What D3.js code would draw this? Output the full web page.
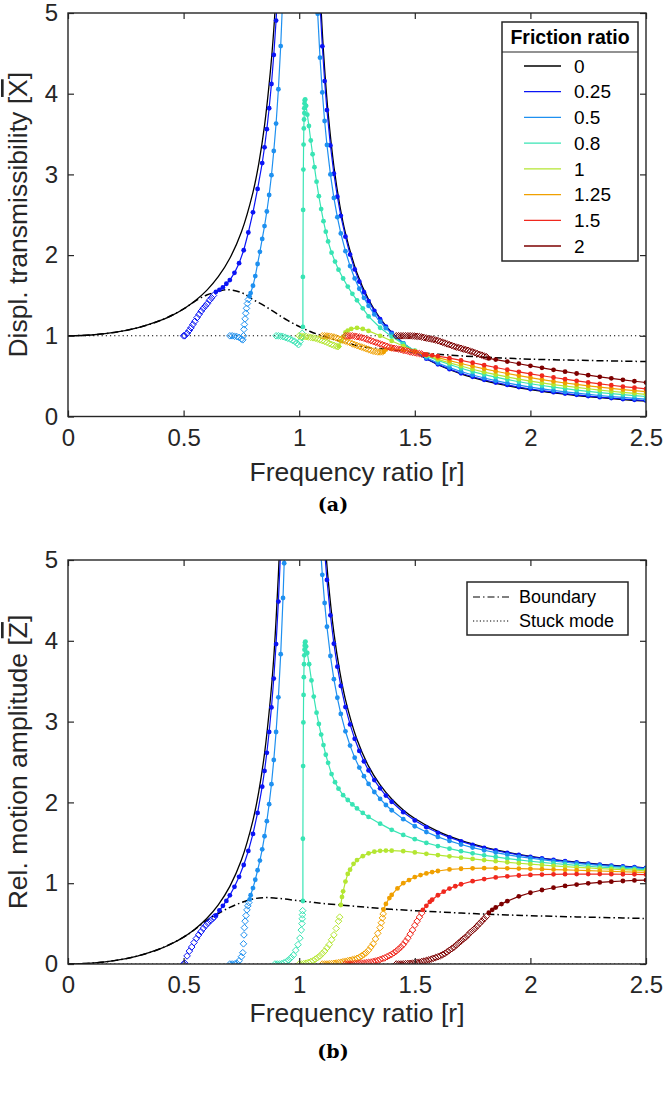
<!DOCTYPE html>
<html><head><meta charset="utf-8">
<script src="https://cdn.jsdelivr.net/npm/d3@7"></script>
<style>body{margin:0;background:#fff} svg{display:block} text{font-family:"Liberation Sans",Arial,Helvetica,sans-serif;fill:#262626}</style>
</head><body>
<svg id="c" width="665" height="1095"></svg>
<script>
// ---------------- DATA ----------------
const xTicks = [0, 0.5, 1, 1.5, 2, 2.5];
const yTicks = [0, 1, 2, 3, 4, 5];
const frictionRatios = [0, 0.25, 0.5, 0.8, 1, 1.25, 1.5, 2];
const legendLabels = ["0", "0.25", "0.5", "0.8", "1", "1.25", "1.5", "2"];
const legendTitle = "Friction ratio";
const legendB = ["Boundary", "Stuck mode"];

// Panel (a): displacement transmissibility
const aFreeLeft = [[0,1],[0.1,1.01],[0.2,1.042],[0.3,1.099],[0.4,1.19],[0.45,1.254],[0.5,1.333],[0.55,1.434],[0.6,1.5625],[0.65,1.732],[0.7,1.961],[0.75,2.286],[0.8,2.778],[0.825,3.131],[0.85,3.604],[0.875,4.267],[0.89,4.79],[0.9,5.263]];
const aFreeRight = [[1.09,5.32],[1.1,4.762],[1.11,4.308],[1.125,3.765],[1.15,3.101],[1.175,2.627],[1.2,2.273],[1.25,1.778],[1.3,1.449],[1.35,1.216],[1.4,1.042],[1.45,0.907],[1.5,0.8],[1.6,0.641],[1.7,0.529],[1.8,0.446],[1.9,0.383],[2.0,0.333],[2.1,0.293],[2.2,0.26],[2.3,0.233],[2.4,0.21],[2.5,0.19]];
const aBoundary = [[0,1],[0.1,1.01],[0.2,1.042],[0.3,1.099],[0.4,1.19],[0.5,1.333],[0.55,1.43],[0.6,1.505],[0.65,1.55],[0.69,1.572],[0.75,1.535],[0.8,1.45],[0.85,1.37],[0.9,1.28],[0.95,1.19],[1.0,1.115],[1.05,1.05],[1.1,1.0],[1.15,0.955],[1.2,0.915],[1.265,0.87],[1.3,0.855],[1.4,0.828],[1.5,0.795],[1.6,0.772],[1.7,0.752],[1.8,0.735],[1.9,0.722],[2.0,0.71],[2.2,0.697],[2.4,0.686],[2.5,0.681]];
const aStuck = [[0,1],[2.5,1]];

const aCont025L = [[0.64,1.545],[0.655,1.57],[0.67,1.6],[0.685,1.645],[0.7,1.69],[0.72,1.78],[0.74,1.9],[0.76,2.06],[0.78,2.28],[0.8,2.53],[0.82,2.82],[0.84,3.14],[0.85,3.336],[0.86,3.56],[0.87,3.82],[0.88,4.12],[0.89,4.48],[0.9,4.906],[0.91,5.43]];
const aCont025R = [[1.09,5.11],[1.1,4.587],[1.11,4.157],[1.12,3.797],[1.135,3.359],[1.15,3.008],[1.165,2.724],[1.18,2.487],[1.2,2.228],[1.22,2.007],[1.24,1.823],[1.26,1.671],[1.28,1.541],[1.3,1.43],[1.325,1.309],[1.35,1.206],[1.375,1.114],[1.4,1.037],[1.45,0.907],[1.5,0.802],[1.55,0.716],[1.6,0.6465],[1.65,0.587],[1.7,0.536],[1.75,0.492],[1.8,0.454],[1.85,0.421],[1.9,0.391],[1.95,0.365],[2.0,0.341],[2.05,0.32],[2.1,0.301],[2.15,0.284],[2.2,0.268],[2.25,0.253],[2.3,0.24],[2.35,0.228],[2.4,0.217],[2.45,0.207],[2.5,0.197]];
const aSlip025 = [[0.5,1.0],[0.505,1.0],[0.515,1.03],[0.524,1.065],[0.532,1.1],[0.54,1.14],[0.549,1.18],[0.558,1.225],[0.567,1.265],[0.576,1.305],[0.585,1.34],[0.594,1.37],[0.603,1.4],[0.612,1.44],[0.621,1.47],[0.629,1.5]];

const aCont05L = [[0.785,1.49],[0.79,1.53],[0.8,1.62],[0.81,1.74],[0.82,1.89],[0.83,2.04],[0.84,2.2],[0.85,2.36],[0.86,2.54],[0.87,2.745],[0.88,2.99],[0.89,3.29],[0.9,3.63],[0.91,4.055],[0.92,4.59],[0.93,5.29]];
const aCont05R = [[1.075,5.33],[1.08,4.99],[1.09,4.447],[1.1,4.016],[1.11,3.662],[1.12,3.365],[1.135,3.0],[1.15,2.709],[1.165,2.47],[1.18,2.268],[1.2,2.049],[1.22,1.864],[1.24,1.711],[1.26,1.583],[1.28,1.47],[1.3,1.372],[1.325,1.265],[1.35,1.174],[1.375,1.094],[1.4,1.024],[1.45,0.905],[1.5,0.809],[1.55,0.728],[1.6,0.663],[1.65,0.606],[1.7,0.557],[1.75,0.514],[1.8,0.477],[1.85,0.444],[1.9,0.414],[1.95,0.388],[2.0,0.364],[2.05,0.343],[2.1,0.323],[2.15,0.305],[2.2,0.289],[2.25,0.274],[2.3,0.26],[2.35,0.247],[2.4,0.236],[2.45,0.225],[2.5,0.215]];
const aSlip05 = [[0.7,1.0],[0.71,1.0],[0.72,0.995],[0.73,0.99],[0.74,0.98],[0.75,0.96],[0.756,0.95],[0.759,1.0],[0.761,1.08],[0.763,1.14],[0.766,1.21],[0.769,1.28],[0.772,1.34],[0.776,1.4],[0.78,1.45]];

const aCont08 = [[1.016,1.11],[1.016,1.73],[1.017,2.56],[1.018,3.06],[1.019,3.37],[1.02,3.57],[1.021,3.68],[1.022,3.76],[1.022,3.82],[1.023,3.88],[1.024,3.92],[1.026,3.93],[1.03,3.85],[1.035,3.74],[1.042,3.6],[1.05,3.42],[1.058,3.25],[1.066,3.09],[1.075,2.91],[1.085,2.73],[1.095,2.57],[1.105,2.42],[1.115,2.29],[1.125,2.17],[1.14,2.03],[1.155,1.92],[1.17,1.82],[1.19,1.71],[1.21,1.61],[1.23,1.52],[1.25,1.44],[1.275,1.34],[1.3,1.24],[1.35,1.1],[1.4,0.99],[1.45,0.9],[1.5,0.815],[1.55,0.75],[1.6,0.696],[1.65,0.645],[1.7,0.598],[1.75,0.556],[1.8,0.519],[1.85,0.487],[1.9,0.458],[1.95,0.431],[2.0,0.406],[2.05,0.384],[2.1,0.364],[2.15,0.345],[2.2,0.328],[2.25,0.312],[2.3,0.297],[2.35,0.283],[2.4,0.27],[2.45,0.259],[2.5,0.248]];
const aSlip08 = [[0.9,1.0],[0.91,1.0],[0.92,0.995],[0.93,0.99],[0.94,0.98],[0.95,0.97],[0.96,0.96],[0.97,0.945],[0.98,0.93],[0.99,0.91],[0.997,0.89],[1.004,0.93],[1.009,0.98],[1.013,1.03]];

const aCont1 = [[1.172,0.87],[1.18,0.934],[1.19,0.99],[1.2,1.042],[1.21,1.065],[1.225,1.085],[1.25,1.099],[1.275,1.085],[1.3,1.061],[1.35,1.0],[1.4,0.936],[1.45,0.873],[1.5,0.813],[1.55,0.758],[1.6,0.708],[1.65,0.665],[1.7,0.626],[1.75,0.586],[1.8,0.549],[1.85,0.518],[1.9,0.49],[1.95,0.463],[2.0,0.438],[2.05,0.416],[2.1,0.396],[2.15,0.378],[2.2,0.36],[2.25,0.344],[2.3,0.328],[2.35,0.313],[2.4,0.299],[2.45,0.287],[2.5,0.275]];
const aSlip1 = [[1.0,1.0],[1.01,0.995],[1.02,0.99],[1.03,0.99],[1.04,0.985],[1.05,0.98],[1.06,0.975],[1.07,0.97],[1.08,0.96],[1.09,0.95],[1.1,0.94],[1.11,0.93],[1.12,0.92],[1.13,0.905],[1.14,0.893],[1.15,0.882],[1.16,0.872],[1.168,0.866]];

const aCont125 = [[1.365,0.8],[1.375,0.83],[1.4,0.837],[1.45,0.822],[1.5,0.801],[1.55,0.767],[1.6,0.73],[1.65,0.692],[1.7,0.657],[1.75,0.623],[1.8,0.591],[1.85,0.561],[1.9,0.533],[1.95,0.506],[2.0,0.481],[2.05,0.457],[2.1,0.435],[2.15,0.415],[2.2,0.397],[2.25,0.38],[2.3,0.364],[2.35,0.348],[2.4,0.334],[2.45,0.32],[2.5,0.307]];
const aSlip125 = [[1.1,1.0],[1.11,1.0],[1.12,0.998],[1.13,0.995],[1.14,0.99],[1.15,0.985],[1.16,0.975],[1.17,0.965],[1.18,0.955],[1.19,0.945],[1.2,0.935],[1.21,0.925],[1.22,0.915],[1.23,0.9],[1.24,0.89],[1.25,0.88],[1.26,0.87],[1.27,0.86],[1.28,0.85],[1.29,0.84],[1.3,0.83],[1.31,0.82],[1.32,0.81],[1.33,0.805],[1.34,0.8],[1.35,0.8],[1.36,0.8]];

const aCont15 = [[1.54,0.767],[1.55,0.765],[1.575,0.758],[1.6,0.749],[1.65,0.723],[1.7,0.695],[1.75,0.666],[1.8,0.636],[1.85,0.607],[1.9,0.579],[1.95,0.553],[2.0,0.528],[2.05,0.505],[2.1,0.483],[2.15,0.462],[2.2,0.442],[2.25,0.422],[2.3,0.404],[2.35,0.387],[2.4,0.371],[2.45,0.357],[2.5,0.3435]];
const aSlip15 = [[1.2,1.0],[1.21,1.0],[1.22,1.0],[1.23,1.0],[1.24,0.995],[1.25,0.99],[1.26,0.985],[1.27,0.978],[1.28,0.97],[1.29,0.96],[1.3,0.95],[1.31,0.94],[1.32,0.93],[1.33,0.92],[1.34,0.91],[1.35,0.9],[1.36,0.89],[1.37,0.88],[1.38,0.87],[1.39,0.86],[1.4,0.85],[1.41,0.845],[1.42,0.84],[1.43,0.835],[1.44,0.83],[1.45,0.82],[1.46,0.815],[1.47,0.81],[1.48,0.8],[1.49,0.795],[1.5,0.79],[1.51,0.785],[1.52,0.78],[1.53,0.775]];

const aCont2 = [[1.82,0.72],[1.85,0.705],[1.9,0.68],[1.95,0.654],[2.0,0.628],[2.05,0.603],[2.1,0.578],[2.15,0.555],[2.2,0.533],[2.25,0.512],[2.3,0.492],[2.35,0.473],[2.4,0.4545],[2.45,0.437],[2.5,0.421]];
const aSlip2 = [[1.42,1.0],[1.43,1.0],[1.44,1.0],[1.45,1.0],[1.46,1.0],[1.47,1.0],[1.48,1.0],[1.49,0.998],[1.5,0.996],[1.51,0.993],[1.52,0.99],[1.53,0.985],[1.54,0.978],[1.55,0.972],[1.56,0.965],[1.57,0.96],[1.58,0.955],[1.59,0.947],[1.6,0.94],[1.61,0.93],[1.62,0.92],[1.63,0.91],[1.64,0.9],[1.65,0.89],[1.66,0.88],[1.67,0.87],[1.68,0.86],[1.69,0.853],[1.7,0.845],[1.71,0.836],[1.72,0.828],[1.73,0.82],[1.74,0.81],[1.75,0.8],[1.76,0.79],[1.77,0.78],[1.78,0.77],[1.79,0.76],[1.8,0.75],[1.81,0.74]];

// Panel (b): relative motion amplitude
const bFreeLeft = [[0,0],[0.1,0.0101],[0.2,0.0417],[0.3,0.0989],[0.4,0.19],[0.45,0.254],[0.5,0.333],[0.55,0.434],[0.6,0.5625],[0.65,0.732],[0.7,0.961],[0.75,1.286],[0.8,1.778],[0.825,2.131],[0.85,2.604],[0.875,3.267],[0.89,3.79],[0.9,4.263],[0.91,4.82],[0.92,5.5]];
const bFreeRight = [[1.08,7.01],[1.09,6.316],[1.1,5.762],[1.11,5.308],[1.125,4.765],[1.15,4.101],[1.175,3.627],[1.2,3.273],[1.25,2.778],[1.3,2.449],[1.35,2.216],[1.4,2.042],[1.45,1.907],[1.5,1.8],[1.6,1.641],[1.7,1.529],[1.8,1.446],[1.9,1.383],[2.0,1.333],[2.1,1.293],[2.2,1.26],[2.3,1.233],[2.4,1.21],[2.5,1.19]];
const bBoundary = [[0,0],[0.1,0.0101],[0.2,0.0417],[0.3,0.0989],[0.4,0.19],[0.5,0.333],[0.55,0.43],[0.6,0.54],[0.65,0.625],[0.7,0.7],[0.75,0.76],[0.8,0.805],[0.85,0.822],[0.9,0.815],[0.95,0.8],[1.0,0.782],[1.05,0.766],[1.1,0.75],[1.2,0.725],[1.3,0.7],[1.4,0.677],[1.5,0.66],[1.6,0.645],[1.7,0.63],[1.8,0.618],[1.9,0.607],[2.0,0.598],[2.2,0.583],[2.4,0.57],[2.5,0.563]];
const bStuck = [[0,0],[2.5,0]];

const bCont025L = [[0.64,0.6],[0.655,0.664],[0.67,0.72],[0.685,0.781],[0.7,0.85],[0.72,0.955],[0.74,1.079],[0.76,1.225],[0.78,1.399],[0.8,1.61],[0.82,1.87],[0.84,2.194],[0.85,2.39],[0.86,2.614],[0.87,2.872],[0.88,3.175],[0.89,3.533],[0.9,3.96],[0.91,4.486],[0.92,5.14]];
const bCont025R = [[1.08,6.72],[1.09,6.07],[1.1,5.54],[1.11,5.11],[1.12,4.753],[1.135,4.315],[1.15,3.965],[1.165,3.68],[1.18,3.441],[1.2,3.18],[1.22,2.965],[1.24,2.787],[1.26,2.637],[1.28,2.508],[1.3,2.396],[1.325,2.276],[1.35,2.174],[1.375,2.085],[1.4,2.008],[1.45,1.879],[1.5,1.777],[1.55,1.693],[1.6,1.624],[1.65,1.567],[1.7,1.517],[1.75,1.474],[1.8,1.437],[1.85,1.405],[1.9,1.376],[1.95,1.35],[2.0,1.327],[2.05,1.307],[2.1,1.288],[2.15,1.272],[2.2,1.256],[2.25,1.243],[2.3,1.23],[2.35,1.218],[2.4,1.207],[2.45,1.198],[2.5,1.188]];
const bSlip025 = [[0.5,0],[0.505,0.01],[0.515,0.1],[0.525,0.16],[0.535,0.21],[0.545,0.265],[0.555,0.315],[0.565,0.36],[0.575,0.4],[0.585,0.44],[0.595,0.475],[0.605,0.505],[0.615,0.535],[0.625,0.56],[0.632,0.58]];

const bCont05L = [[0.786,0.8],[0.79,0.852],[0.8,0.94],[0.81,1.0425],[0.82,1.16],[0.83,1.28],[0.84,1.419],[0.85,1.581],[0.86,1.768],[0.87,1.978],[0.88,2.225],[0.89,2.525],[0.9,2.871],[0.91,3.3],[0.92,3.835],[0.93,4.53],[0.935,4.96],[0.94,5.44]];
const bCont05R = [[1.07,6.47],[1.08,5.78],[1.09,5.246],[1.1,4.817],[1.11,4.468],[1.12,4.174],[1.135,3.812],[1.15,3.525],[1.165,3.295],[1.18,3.095],[1.2,2.88],[1.22,2.703],[1.24,2.554],[1.26,2.431],[1.28,2.324],[1.3,2.229],[1.325,2.129],[1.35,2.043],[1.375,1.968],[1.4,1.903],[1.45,1.793],[1.5,1.705],[1.55,1.633],[1.6,1.573],[1.65,1.523],[1.7,1.479],[1.75,1.441],[1.8,1.408],[1.85,1.379],[1.9,1.353],[1.95,1.33],[2.0,1.31],[2.05,1.291],[2.1,1.274],[2.15,1.259],[2.2,1.245],[2.25,1.232],[2.3,1.22],[2.35,1.209],[2.4,1.199],[2.45,1.19],[2.5,1.181]];
const bSlip05 = [[0.7,0],[0.71,0],[0.72,0],[0.73,0.01],[0.74,0.04],[0.75,0.09],[0.756,0.14],[0.759,0.25],[0.761,0.36],[0.763,0.45],[0.766,0.53],[0.77,0.6],[0.774,0.67],[0.778,0.72],[0.782,0.76]];

const bCont08 = [[1.016,0.78],[1.016,1.55],[1.017,2.45],[1.018,2.99],[1.019,3.33],[1.02,3.55],[1.021,3.71],[1.022,3.82],[1.023,3.89],[1.024,3.94],[1.025,3.98],[1.027,3.99],[1.03,3.93],[1.035,3.85],[1.043,3.71],[1.053,3.51],[1.063,3.31],[1.075,3.11],[1.085,2.97],[1.095,2.84],[1.105,2.71],[1.115,2.59],[1.125,2.49],[1.14,2.35],[1.155,2.25],[1.17,2.17],[1.19,2.09],[1.21,2.03],[1.23,1.975],[1.25,1.925],[1.275,1.87],[1.3,1.82],[1.35,1.737],[1.4,1.66],[1.45,1.597],[1.5,1.545],[1.55,1.499],[1.6,1.46],[1.65,1.427],[1.7,1.396],[1.75,1.37],[1.8,1.345],[1.85,1.325],[1.9,1.305],[1.95,1.288],[2.0,1.272],[2.05,1.257],[2.1,1.244],[2.15,1.232],[2.2,1.22],[2.25,1.21],[2.3,1.2],[2.35,1.191],[2.4,1.183],[2.45,1.175],[2.5,1.167]];
const bSlip08 = [[0.895,0],[0.905,0],[0.915,0],[0.925,0.005],[0.935,0.015],[0.945,0.03],[0.955,0.05],[0.965,0.08],[0.975,0.11],[0.985,0.17],[0.995,0.24],[1.003,0.32],[1.009,0.42],[1.012,0.5],[1.013,0.56],[1.014,0.61],[1.015,0.66]];

const bCont1 = [[1.18,0.73],[1.185,0.83],[1.19,0.9],[1.2,1.02],[1.21,1.115],[1.22,1.168],[1.235,1.24],[1.25,1.286],[1.275,1.335],[1.3,1.37],[1.325,1.39],[1.35,1.401],[1.375,1.404],[1.4,1.403],[1.45,1.396],[1.5,1.381],[1.55,1.364],[1.6,1.348],[1.65,1.333],[1.7,1.316],[1.75,1.301],[1.8,1.286],[1.85,1.273],[1.9,1.259],[1.95,1.247],[2.0,1.236],[2.05,1.225],[2.1,1.215],[2.15,1.206],[2.2,1.197],[2.25,1.189],[2.3,1.181],[2.35,1.174],[2.4,1.167],[2.45,1.161],[2.5,1.154]];
const bSlip1 = [[1.0,0],[1.01,0],[1.02,0.005],[1.03,0.01],[1.04,0.02],[1.05,0.03],[1.06,0.04],[1.07,0.06],[1.08,0.08],[1.09,0.1],[1.1,0.13],[1.11,0.16],[1.12,0.2],[1.13,0.24],[1.14,0.3],[1.15,0.36],[1.16,0.44],[1.17,0.53],[1.175,0.58]];

const bCont125 = [[1.365,0.675],[1.375,0.743],[1.39,0.816],[1.4,0.855],[1.425,0.935],[1.45,1.0],[1.475,1.039],[1.5,1.076],[1.525,1.101],[1.55,1.121],[1.575,1.138],[1.6,1.151],[1.65,1.17],[1.7,1.179],[1.75,1.184],[1.8,1.186],[1.85,1.186],[1.9,1.184],[1.95,1.181],[2.0,1.178],[2.05,1.173],[2.1,1.169],[2.15,1.165],[2.2,1.16],[2.25,1.156],[2.3,1.151],[2.35,1.146],[2.4,1.142],[2.45,1.138],[2.5,1.133]];
const bSlip125 = [[1.1,0],[1.11,0],[1.12,0],[1.13,0.003],[1.14,0.005],[1.15,0.008],[1.16,0.012],[1.17,0.017],[1.18,0.022],[1.19,0.028],[1.2,0.034],[1.21,0.04],[1.22,0.046],[1.23,0.053],[1.24,0.06],[1.25,0.07],[1.26,0.082],[1.27,0.1],[1.28,0.12],[1.29,0.14],[1.3,0.17],[1.31,0.21],[1.32,0.25],[1.33,0.31],[1.34,0.38],[1.35,0.45],[1.355,0.51],[1.36,0.57],[1.363,0.62]];

const bCont15 = [[1.535,0.671],[1.55,0.72],[1.565,0.77],[1.575,0.795],[1.6,0.851],[1.625,0.895],[1.65,0.934],[1.675,0.962],[1.7,0.987],[1.75,1.025],[1.8,1.051],[1.85,1.072],[1.9,1.085],[1.95,1.095],[2.0,1.1025],[2.05,1.107],[2.1,1.11],[2.15,1.112],[2.2,1.113],[2.25,1.1135],[2.3,1.113],[2.35,1.112],[2.4,1.111],[2.45,1.11],[2.5,1.107]];
const bSlip15 = [[1.2,0],[1.21,0],[1.22,0],[1.23,0],[1.24,0.003],[1.25,0.005],[1.26,0.008],[1.27,0.01],[1.28,0.013],[1.29,0.016],[1.3,0.02],[1.31,0.024],[1.32,0.03],[1.33,0.037],[1.34,0.045],[1.35,0.055],[1.36,0.065],[1.37,0.075],[1.38,0.09],[1.39,0.105],[1.4,0.12],[1.41,0.14],[1.42,0.16],[1.43,0.185],[1.44,0.21],[1.45,0.24],[1.46,0.28],[1.47,0.32],[1.48,0.37],[1.49,0.42],[1.5,0.48],[1.51,0.53],[1.52,0.58],[1.53,0.63]];

const bCont2 = [[1.82,0.635],[1.835,0.67],[1.85,0.699],[1.875,0.742],[1.9,0.778],[1.95,0.837],[2.0,0.882],[2.05,0.916],[2.1,0.944],[2.15,0.966],[2.2,0.983],[2.25,0.998],[2.3,1.01],[2.35,1.019],[2.4,1.027],[2.45,1.034],[2.5,1.038]];
const bSlip2 = [[1.42,0],[1.43,0],[1.44,0],[1.45,0.002],[1.46,0.004],[1.47,0.006],[1.48,0.008],[1.49,0.011],[1.5,0.014],[1.51,0.018],[1.52,0.023],[1.53,0.03],[1.54,0.036],[1.55,0.043],[1.56,0.05],[1.57,0.06],[1.58,0.07],[1.59,0.08],[1.6,0.09],[1.61,0.1],[1.62,0.115],[1.63,0.13],[1.64,0.15],[1.65,0.17],[1.66,0.19],[1.67,0.21],[1.68,0.235],[1.69,0.26],[1.7,0.285],[1.71,0.31],[1.72,0.33],[1.73,0.36],[1.74,0.39],[1.75,0.415],[1.76,0.44],[1.77,0.47],[1.78,0.5],[1.79,0.53],[1.8,0.56],[1.81,0.59]];

// ---------------- STYLE ----------------
const seriesColors = ["#000000", "#0a14f5", "#1e90f0", "#38e4b4", "#b4e632", "#f0a000", "#f0281e", "#7d0000"];
const axisColor = "#262626";

const panelA = {
  top: 13, bottom: 416.5, left: 68, right: 646, xlabOff: 64,
  ylabel: "Displ. transmissibility [", ysym: "X", title: "(a)",
  free: [aFreeLeft, aFreeRight], boundary: aBoundary, stuck: aStuck,
  series: [
    {c: 1, cont: [aCont025L, aCont025R], slip: aSlip025},
    {c: 2, cont: [aCont05L, aCont05R], slip: aSlip05},
    {c: 3, cont: [aCont08], slip: aSlip08},
    {c: 4, cont: [aCont1], slip: aSlip1},
    {c: 5, cont: [aCont125], slip: aSlip125},
    {c: 6, cont: [aCont15], slip: aSlip15},
    {c: 7, cont: [aCont2], slip: aSlip2}
  ]
};
const panelB = {
  top: 560, bottom: 964, left: 68, right: 646, xlabOff: 58,
  ylabel: "Rel. motion amplitude [", ysym: "Z", title: "(b)",
  free: [bFreeLeft, bFreeRight], boundary: bBoundary, stuck: bStuck,
  series: [
    {c: 1, cont: [bCont025L, bCont025R], slip: bSlip025},
    {c: 2, cont: [bCont05L, bCont05R], slip: bSlip05},
    {c: 3, cont: [bCont08], slip: bSlip08},
    {c: 4, cont: [bCont1], slip: bSlip1},
    {c: 5, cont: [bCont125], slip: bSlip125},
    {c: 6, cont: [bCont15], slip: bSlip15},
    {c: 7, cont: [bCont2], slip: bSlip2}
  ]
};

const svg = d3.select("#c");
const TICKFS = 24, LABELFS = 26.5;

function drawPanel(p, id) {
  const x = d3.scaleLinear().domain([0, 2.5]).range([p.left, p.right]);
  const y = d3.scaleLinear().domain([0, 5]).range([p.bottom, p.top]);
  const g = svg.append("g");
  g.append("clipPath").attr("id", "clip" + id).append("rect")
    .attr("x", p.left).attr("y", p.top).attr("width", p.right - p.left).attr("height", p.bottom - p.top);
  const plot = g.append("g").attr("clip-path", `url(#clip${id})`);
  const lin = d3.line().x(d => x(d[0])).y(d => y(d[1]));
  const smooth = d3.line().x(d => x(d[0])).y(d => y(d[1])).curve(d3.curveCatmullRom);

  plot.append("path").datum(p.stuck).attr("d", lin).attr("fill", "none")
    .attr("stroke", "#000").attr("stroke-width", 1.1).attr("stroke-dasharray", "1.2,3");
  p.free.forEach(seg => plot.append("path").datum(seg).attr("d", smooth).attr("fill", "none")
    .attr("stroke", "#000").attr("stroke-width", 1.3));
  plot.append("path").datum(p.boundary).attr("d", smooth).attr("fill", "none")
    .attr("stroke", "#000").attr("stroke-width", 1.5).attr("stroke-dasharray", "7,3,1.5,3");

  p.series.forEach(s => {
    const col = seriesColors[s.c];
    s.cont.forEach(seg => {
      plot.append("path").datum(seg).attr("d", lin).attr("fill", "none")
        .attr("stroke", col).attr("stroke-width", 1.2);
      plot.append("g").selectAll("circle").data(seg).join("circle")
        .attr("cx", d => x(d[0])).attr("cy", d => y(d[1])).attr("r", 2.4).attr("fill", col);
    });
    plot.append("g").selectAll("path").data(s.slip).join("path")
      .attr("transform", d => `translate(${x(d[0])},${y(d[1])})`)
      .attr("d", "M0,-3.3L3.3,0L0,3.3L-3.3,0Z").attr("fill", "none")
      .attr("stroke", col).attr("stroke-width", 1);
  });

  const ax = g.append("g").attr("transform", `translate(0,${p.bottom})`)
    .call(d3.axisBottom(x).tickValues(xTicks).tickFormat(d => String(d)).tickSizeInner(-6).tickSizeOuter(0).tickPadding(12));
  const axT = g.append("g").attr("transform", `translate(0,${p.top})`)
    .call(d3.axisTop(x).tickValues(xTicks).tickFormat("").tickSizeInner(-6).tickSizeOuter(0));
  const ay = g.append("g").attr("transform", `translate(${p.left},0)`)
    .call(d3.axisLeft(y).tickValues(yTicks).tickFormat(d => String(d)).tickSizeInner(-6).tickSizeOuter(0).tickPadding(10));
  const ayR = g.append("g").attr("transform", `translate(${p.right},0)`)
    .call(d3.axisRight(y).tickValues(yTicks).tickFormat("").tickSizeInner(-6).tickSizeOuter(0));
  [ax, axT, ay, ayR].forEach(a => {
    a.select(".domain").remove();
    a.selectAll(".tick line").attr("stroke", axisColor).attr("stroke-width", 1.2);
    a.selectAll(".tick text").attr("font-size", TICKFS).style("fill", axisColor);
  });
  ax.selectAll(".tick text").attr("dy", "0.71em");
  g.append("rect").attr("x", p.left).attr("y", p.top).attr("width", p.right - p.left).attr("height", p.bottom - p.top)
    .attr("fill", "none").attr("stroke", axisColor).attr("stroke-width", 1.4);

  g.append("text").attr("x", (p.left + p.right) / 2).attr("y", p.bottom + p.xlabOff).attr("text-anchor", "middle")
    .attr("font-size", LABELFS).text("Frequency ratio [r]");
  const yl = g.append("text").attr("transform", `translate(${p.left - 41},${(p.top + p.bottom) / 2}) rotate(-90)`)
    .attr("text-anchor", "middle").attr("font-size", LABELFS);
  yl.append("tspan").text(p.ylabel);
  yl.append("tspan").attr("text-decoration", "overline").text(p.ysym);
  yl.append("tspan").text("]");
  svg.append("text").attr("x", 333).attr("y", p.bottom + 94).attr("text-anchor", "middle")
    .style("font-family", "'DejaVu Serif', serif").style("font-weight", "bold")
    .attr("font-size", 19).style("fill", "#000").text(p.title);
  return {x, y};
}

drawPanel(panelA, "a");
drawPanel(panelB, "b");

// Legend (a)
(function() {
  const L = 502, T = 22, Wd = 136, Ht = 239;
  const g = svg.append("g");
  g.append("rect").attr("x", L).attr("y", T).attr("width", Wd).attr("height", Ht)
    .attr("fill", "#fff").attr("stroke", axisColor).attr("stroke-width", 1.5);
  g.append("line").attr("x1", L).attr("x2", L + Wd).attr("y1", T + 30).attr("y2", T + 30)
    .attr("stroke", axisColor).attr("stroke-width", 1.2);
  g.append("text").attr("x", L + Wd / 2).attr("y", T + 22).attr("text-anchor", "middle")
    .style("font-weight", "bold").attr("font-size", 19.5).style("fill", "#000").text(legendTitle);
  const rowY = d3.scaleLinear().domain([0, 7]).range([T + 44, T + 224]);
  legendLabels.forEach((lab, i) => {
    const yy = rowY(i);
    g.append("line").attr("x1", L + 22).attr("x2", L + 59).attr("y1", yy).attr("y2", yy)
      .attr("stroke", seriesColors[i]).attr("stroke-width", 1.3);
    g.append("text").attr("x", L + 72).attr("y", yy).attr("dy", "0.35em")
      .attr("font-size", 19).style("fill", "#000").text(lab);
  });
})();

// Legend (b)
(function() {
  const L = 467, T = 582, Wd = 161, Ht = 53;
  const g = svg.append("g");
  g.append("rect").attr("x", L).attr("y", T).attr("width", Wd).attr("height", Ht)
    .attr("fill", "#fff").attr("stroke", axisColor).attr("stroke-width", 1.5);
  const dashes = ["7,3,1.5,3", "1.2,2.2"];
  legendB.forEach((lab, i) => {
    const yy = T + 15 + i * 24;
    g.append("line").attr("x1", L + 6).attr("x2", L + 43).attr("y1", yy).attr("y2", yy)
      .attr("stroke", "#000").attr("stroke-width", 1.1).attr("stroke-dasharray", dashes[i]);
    g.append("text").attr("x", L + 52).attr("y", yy).attr("dy", "0.35em")
      .attr("font-size", 18).style("fill", "#000").text(lab);
  });
})();
</script>
</body></html>
